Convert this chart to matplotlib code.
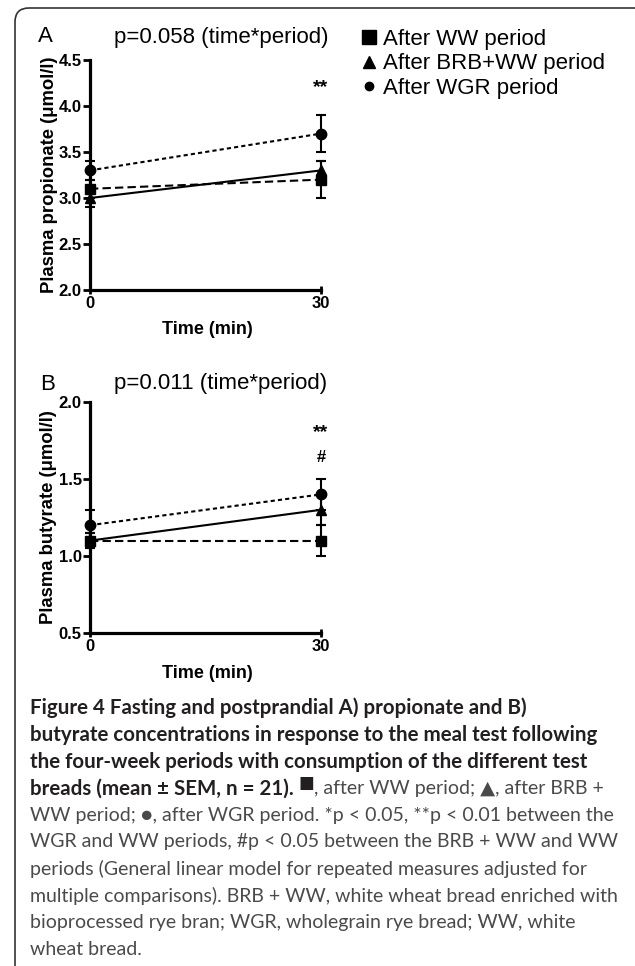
import matplotlib
matplotlib.use("Agg")
import matplotlib.pyplot as plt
from matplotlib.patches import FancyBboxPatch
from matplotlib.lines import Line2D

plt.rcParams['font.family'] = ['Liberation Sans', 'DejaVu Sans']

# ---------------------------------------------------------------- data
times = [0, 30]

prop_ww = [3.1, 3.2]
prop_ww_sem = [0.1, 0.2]
prop_brb = [3.0, 3.3]
prop_brb_sem = [0.1, 0.1]
prop_wgr = [3.3, 3.7]
prop_wgr_sem = [0.1, 0.2]

but_ww = [1.1, 1.1]
but_ww_sem = [0.05, 0.1]
but_brb = [1.1, 1.3]
but_brb_sem = [0.05, 0.1]
but_wgr = [1.2, 1.4]
but_wgr_sem = [0.1, 0.1]

legend_labels = ["After WW period", "After BRB+WW period", "After WGR period"]

caption_bold = ["Figure 4 Fasting and postprandial A) propionate and B)",
                "butyrate concentrations in response to the meal test following",
                "the four-week periods with consumption of the different test"]
caption_mixed = ("breads (mean \u00b1 SEM, n = 21). ", "\u25a0",
                 ", after WW period; \u25b2, after BRB +")
caption_plain = ["WW period; \u25cf, after WGR period. *p < 0.05, **p < 0.01 between the",
                 "WGR and WW periods, #p < 0.05 between the BRB + WW and WW",
                 "periods (General linear model for repeated measures adjusted for",
                 "multiple comparisons). BRB + WW, white wheat bread enriched with",
                 "bioprocessed rye bran; WGR, wholegrain rye bread; WW, white",
                 "wheat bread."]

W, H = 635, 966
fig = plt.figure(figsize=(W / 100, H / 100), dpi=100)

# background axes in pixel coordinates for the frame and caption
bg = fig.add_axes([0, 0, 1, 1], zorder=-1)
bg.set_xlim(0, W)
bg.set_ylim(H, 0)
bg.axis('off')
bg.add_patch(FancyBboxPatch((15, 8), 633, 1000,
                            boxstyle="round,pad=0,rounding_size=14",
                            fill=False, ec='#333333', lw=1.2))


def px_axes(left, top, right, bottom):
  return fig.add_axes([left / W, 1 - bottom / H, (right - left) / W, (bottom - top) / H])


def style_axes(ax, ylim, yticks):
  ax.set_xlim(0, 30)
  ax.set_ylim(*ylim)
  ax.set_xticks([0, 30])
  ax.set_yticks(yticks)
  ax.set_yticklabels(["%.1f" % v for v in yticks])
  for s in ['top', 'right']:
    ax.spines[s].set_visible(False)
  for s in ['left', 'bottom']:
    ax.spines[s].set_linewidth(2.3)
  ax.tick_params(axis='y', direction='out', length=5, width=2, labelsize=12, pad=1)
  ax.tick_params(axis='x', direction='inout', length=6, width=2, labelsize=12, pad=1)
  for lab in ax.get_xticklabels() + ax.get_yticklabels():
    lab.set_fontweight('bold')
  ax.patch.set_alpha(0)


def draw_series(ax, ww, ww_e, brb, brb_e, wgr, wgr_e):
  common = dict(color='black', lw=1.5, elinewidth=1.5, capsize=3.5, capthick=1.5,
                clip_on=False)
  for c in ax.errorbar(times, wgr, yerr=wgr_e, marker='o', ms=7.5,
                       linestyle=(0, (2, 1.5)), **common).get_children():
    c.set_clip_on(False)
  for c in ax.errorbar(times, ww, yerr=ww_e, marker='s', ms=7.5,
                       linestyle=(0, (4, 2)), **common).get_children():
    c.set_clip_on(False)
  for c in ax.errorbar(times, brb, yerr=brb_e, marker='^', ms=7.5,
                       linestyle='-', **common).get_children():
    c.set_clip_on(False)


# ---------------------------------------------------------------- panel A
axA = px_axes(90, 60, 321, 290)
draw_series(axA, prop_ww, prop_ww_sem, prop_brb, prop_brb_sem, prop_wgr, prop_wgr_sem)
style_axes(axA, (2.0, 4.5), [2.0, 2.5, 3.0, 3.5, 4.0, 4.5])
axA.text(30, 4.2, "**", ha='center', va='center', fontsize=14, fontweight='bold')

# ---------------------------------------------------------------- panel B
axB = px_axes(90, 402, 321, 633)
draw_series(axB, but_ww, but_ww_sem, but_brb, but_brb_sem, but_wgr, but_wgr_sem)
style_axes(axB, (0.5, 2.0), [0.5, 1.0, 1.5, 2.0])
axB.text(30, 1.8, "**", ha='center', va='center', fontsize=14, fontweight='bold')
axB.text(30, 1.64, "#", ha='center', va='center', fontsize=12, fontweight='bold')

# panel letters, titles and labels
bg.text(38, 36, "A", fontsize=16, va='center', ha='left')
bg.text(221, 38, "p=0.058 (time*period)", fontsize=16, va='center', ha='center')
bg.text(40, 385, "B", fontsize=16, va='center', ha='left')
bg.text(221, 384, "p=0.011 (time*period)", fontsize=16, va='center', ha='center')

bg.text(50, 175, "Plasma propionate (\u03bcmol/l)", rotation=90, fontsize=13.3,
        fontweight='bold', va='center', ha='center')
bg.text(49, 517, "Plasma butyrate (\u03bcmol/l)", rotation=90, fontsize=13.3,
        fontweight='bold', va='center', ha='center')
bg.text(207, 330, "Time (min)", fontsize=13, fontweight='bold', va='center', ha='center')
bg.text(207, 673, "Time (min)", fontsize=13, fontweight='bold', va='center', ha='center')

# legend (markers only)
handles = [Line2D([], [], color='black', marker='s', ms=10, linestyle='none'),
           Line2D([], [], color='black', marker='^', ms=8, linestyle='none'),
           Line2D([], [], color='black', marker='o', ms=6, linestyle='none')]
fig.legend(handles, legend_labels, loc='upper left', bbox_to_anchor=(359 / W, 1 - 29 / H),
           frameon=False, fontsize=16, handlelength=0.9, handletextpad=0.2,
           labelspacing=0.15, borderaxespad=0, borderpad=0)

# ---------------------------------------------------------------- caption
cap_font = ['Lato', 'DejaVu Sans']
bold_size = 14.8
plain_size = 14.0
y0 = 708
dy = 26.8
for i, line in enumerate(caption_bold):
  bg.text(30, y0 + i * dy, line, family=cap_font, fontsize=bold_size, fontweight='bold',
          color='#231f20', va='center', ha='left')

yl = y0 + 3 * dy
t = bg.text(30, yl, caption_mixed[0], family=cap_font, fontsize=bold_size,
            fontweight='bold', color='#231f20', va='center', ha='left')
fig.canvas.draw()
r = fig.canvas.get_renderer()
x1 = t.get_window_extent(r).x1
t2 = bg.text(x1, yl - 5, caption_mixed[1], family=cap_font, fontsize=12,
             color='#231f20', va='center', ha='left')
fig.canvas.draw()
x2 = t2.get_window_extent(r).x1
bg.text(x2, yl, caption_mixed[2], family=cap_font, fontsize=plain_size,
        color='#4a4a4a', va='center', ha='left')

for i, line in enumerate(caption_plain):
  bg.text(30, yl + (i + 1) * dy, line, family=cap_font, fontsize=plain_size,
          color='#4a4a4a', va='center', ha='left')

fig.savefig("out.png", dpi=100)
